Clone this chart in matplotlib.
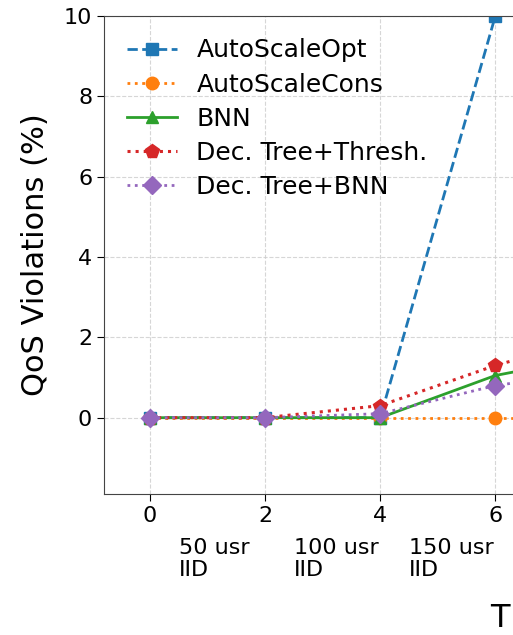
import matplotlib
matplotlib.use('Agg')
import matplotlib.pyplot as plt

# data (x = time step)
x = [0, 2, 4, 6, 8]
opt = [0, 0, 0, 10, 14]
cons = [0, 0, 0, 0, 0]
bnn = [0, 0, 0, 1.05, 1.6]
thresh = [0, 0, 0.3, 1.3, 2.1]
tree_bnn = [0, 0, 0.1, 0.8, 1.2]

phase_x = [0.5, 2.5, 4.5]
phase_labels = ['50 usr\nIID', '100 usr\nIID', '150 usr\nIID']

fig = plt.figure(figsize=(5.13, 6.35), dpi=100)
ax = fig.add_axes([104/513, 141/635, 610/513, 478/635])

ax.plot(x, opt, '--s', color='tab:blue', lw=2, ms=9, label='AutoScaleOpt')
ax.plot(x, cons, ':o', color='tab:orange', lw=2, ms=9, label='AutoScaleCons')
ax.plot(x, bnn, '-^', color='tab:green', lw=2, ms=9, label='BNN')
ax.plot(x, thresh, ':p', color='tab:red', lw=2.2, ms=10, label='Dec. Tree+Thresh.')
ax.plot(x, tree_bnn, ':D', color='tab:purple', lw=2, ms=9, label='Dec. Tree+BNN')

ax.set_xlim(-0.8, 9.8)
ax.set_ylim(-1.9, 10)
ax.set_xticks([0, 2, 4, 6])
ax.set_yticks([0, 2, 4, 6, 8, 10])
ax.tick_params(labelsize=16, length=5)
ax.grid(True, linestyle='--', color='#cccccc', alpha=0.8)
for s in ax.spines.values():
    s.set_color('#444444')

for px, lab in zip(phase_x, phase_labels):
    ax.text(px, -0.092, lab, transform=ax.get_xaxis_transform(),
            fontsize=16, ha='left', va='top', linespacing=1.15)

ax.set_ylabel('QoS Violations (%)', fontsize=22, labelpad=10)
# x label is cut by the right edge in the reference, only its first letter shows
fig.text(490/513, 1/635, 'T', fontsize=23, ha='left', va='bottom')

ax.legend(loc='upper left', fontsize=18, frameon=False, labelspacing=0.4,
          bbox_to_anchor=(0.0, 1.0), borderaxespad=0.5)

fig.savefig('out.png', dpi=100)
